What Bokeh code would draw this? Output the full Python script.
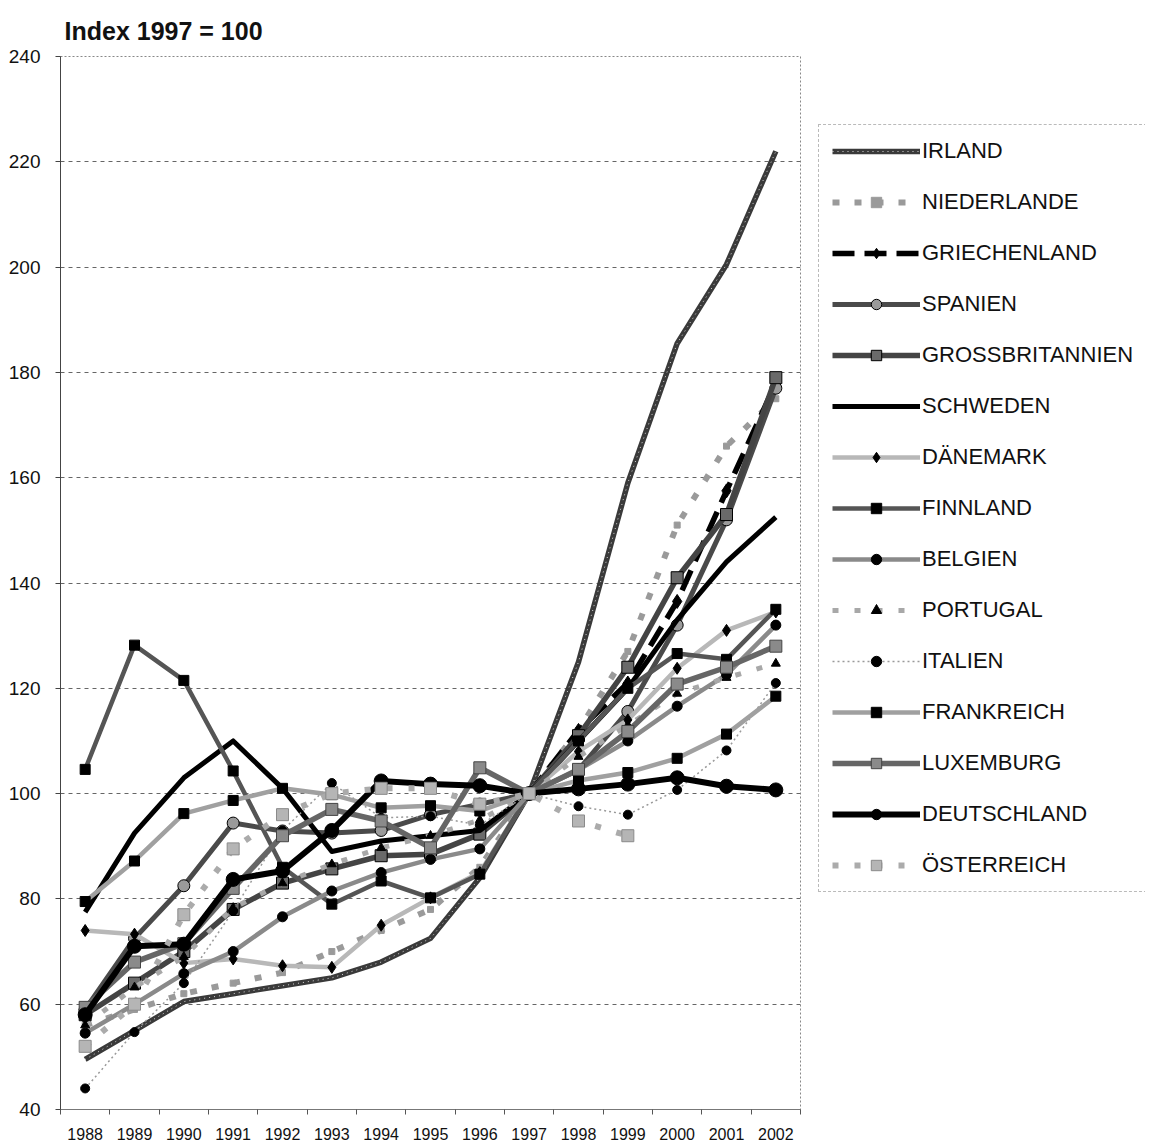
import math
from bokeh.plotting import figure
from bokeh.models import Range1d, FixedTicker, Legend, LegendItem
from bokeh.layouts import row
from bokeh.embed import file_html
from bokeh.resources import INLINE

nan = float("nan")

years = list(range(1988, 2003))
y_ticks = [40, 60, 80, 100, 120, 140, 160, 180, 200, 220, 240]

irland = [49.5, 55, 60.5, 62, 63.5, 65, 68, 72.5, 84, 100, 125, 159, 185.5, 200.5, 222]
niederlande = [56, 59, 62, 64, 66, 70, 74, 78, 86, 100, 112, 127, 151, 166, 175]
griechenland = [nan, nan, nan, nan, nan, nan, nan, nan, nan, 100, 112, 121, 136.5, 157.5, 178]
spanien = [59, 72.5, 82.5, 94.4, 92.9, 92.5, 93, 96, 98, 100, 104.5, 115.6, 132, 152, 177]
grossbritannien = [58, 64, 70, 78, 83, 85.7, 88.2, 88.5, 92.3, 100, 111, 124, 141, 153, 179]
schweden = [77.5, 92.5, 103, 110, 101, 89, 91, 92, 93, 100, 110, 120, 133, 144, 152.5]
daenemark = [74, 73.3, 67.8, 68.6, 67.3, 67, 75, 80.2, 85, 100, 108, 114, 123.8, 131, 134.5]
finnland = [104.6, 128.2, 121.5, 104.3, 86, 79, 83.4, 80.2, 84.7, 100, 110, 120, 126.6, 125.5, 135]
belgien = [54.5, 60, 65.8, 70, 76.6, 81.5, 85, 87.5, 89.5, 100, 104.5, 110, 116.6, 122.6, 132]
portugal = [56, 63.2, 69, 78.3, 83, 86.6, 89.7, 92, 95, 100, 107, 113, 119, 122, 124.7]
italien = [44, 54.7, 64, 77.7, 93, 102, 95.4, 95.7, 94, 100, 97.6, 96, 100.7, 108.2, 121]
frankreich = [79.5, 87.2, 96.2, 98.7, 101, 99.8, 97.3, 97.7, 96.7, 100, 102.5, 104, 106.7, 111.3, 118.5]
luxemburg = [59.4, 68, 71.5, 82, 92, 97, 94.8, 89.7, 104.9, 100, 104.6, 111.8, 120.8, 124, 128]
deutschland = [58, 71, 71.4, 83.7, 85.3, 93, 102.4, 101.8, 101.5, 100, 100.9, 101.8, 103, 101.4, 100.7]
oesterreich = [52, 60, 77, 89.5, 96, 100, 101, 101, 98, 100, 94.8, 92, nan, nan, nan]

series = [
    ("IRLAND", irland),
    ("NIEDERLANDE", niederlande),
    ("GRIECHENLAND", griechenland),
    ("SPANIEN", spanien),
    ("GROSSBRITANNIEN", grossbritannien),
    ("SCHWEDEN", schweden),
    ("DÄNEMARK", daenemark),
    ("FINNLAND", finnland),
    ("BELGIEN", belgien),
    ("PORTUGAL", portugal),
    ("ITALIEN", italien),
    ("FRANKREICH", frankreich),
    ("LUXEMBURG", luxemburg),
    ("DEUTSCHLAND", deutschland),
    ("ÖSTERREICH", oesterreich),
]

# style: line color, width, dash, marker, marker size, marker fill, marker line
styles = {
    "IRLAND": ("#3a3a3a", 5.5, "solid", None, 0, None, None),
    "NIEDERLANDE": ("#9a9a9a", 6, "7 15", "square", 6, "#9a9a9a", "#9a9a9a"),
    "GRIECHENLAND": ("#000000", 5.5, "22 10", "diamond", 14, "#000000", "#000000"),
    "SPANIEN": ("#4a4a4a", 5, "solid", "circle", 12, "#9a9a9a", "#000000"),
    "GROSSBRITANNIEN": ("#444444", 5.5, "solid", "square", 12, "#6a6a6a", "#000000"),
    "SCHWEDEN": ("#000000", 5, "solid", None, 0, None, None),
    "DÄNEMARK": ("#b8b8b8", 4.5, "solid", "diamond", 12, "#000000", "#000000"),
    "FINNLAND": ("#555555", 4.5, "solid", "square", 10, "#000000", "#000000"),
    "BELGIEN": ("#8a8a8a", 4.5, "solid", "circle", 10, "#000000", "#000000"),
    "PORTUGAL": ("#a8a8a8", 5, "6 16", "triangle", 9, "#000000", "#000000"),
    "ITALIEN": ("#9a9a9a", 1.5, "2 3", "circle", 9, "#000000", "#000000"),
    "FRANKREICH": ("#a0a0a0", 4.5, "solid", "square", 10, "#000000", "#000000"),
    "LUXEMBURG": ("#666666", 5.5, "solid", "square", 12, "#8a8a8a", "#444444"),
    "DEUTSCHLAND": ("#000000", 6, "solid", "circle", 14, "#000000", "#000000"),
    "ÖSTERREICH": ("#ababab", 6, "6 16", "square", 12, "#b5b5b5", "#8a8a8a"),
}

FONT = "Liberation Sans"
H = 1143

p = figure(width=801, height=H,
           x_range=Range1d(1987.5, 2002.5), y_range=Range1d(40, 240),
           output_backend="svg", toolbar_location=None,
           min_border_left=60, min_border_right=1,
           min_border_top=56, min_border_bottom=34,
           background_fill_color="white", border_fill_color="white")

p.title.text = "Index 1997 = 100"
p.title.align = "left"
p.title.offset = 4
p.title.standoff = 24
p.title.text_font = FONT
p.title.text_font_size = "25px"
p.title.text_font_style = "bold"
p.title.text_color = "#111111"

p.outline_line_color = "#888888"
p.outline_line_dash = "2 2"
p.outline_line_width = 1

p.xgrid.visible = False
p.ygrid.ticker = FixedTicker(ticks=y_ticks)
p.ygrid.grid_line_color = "#666666"
p.ygrid.grid_line_dash = "4 4"
p.ygrid.grid_line_width = 1

p.xaxis.ticker = FixedTicker(ticks=years, minor_ticks=[y - 0.5 for y in years] + [2002.5])
p.xaxis.major_tick_out = 0
p.xaxis.major_tick_in = 0
p.xaxis.minor_tick_out = 5
p.xaxis.minor_tick_in = 0
p.xaxis.minor_tick_line_color = "#555555"
p.xaxis.axis_line_color = "#777777"
p.xaxis.major_label_standoff = 13
p.xaxis.major_label_text_font = FONT
p.xaxis.major_label_text_font_size = "16px"
p.xaxis.major_label_text_color = "#111111"

p.yaxis.ticker = FixedTicker(ticks=y_ticks)
p.yaxis.major_tick_out = 5
p.yaxis.major_tick_in = 0
p.yaxis.minor_tick_line_color = None
p.yaxis.axis_line_color = "#444444"
p.yaxis.major_tick_line_color = "#444444"
p.yaxis.major_label_standoff = 15
p.yaxis.major_label_text_font = FONT
p.yaxis.major_label_text_font_size = "19px"
p.yaxis.major_label_text_color = "#111111"

# legend panel: a second figure whose plot area holds only the legend
lf = figure(width=344, height=H, x_range=Range1d(0, 1), y_range=Range1d(0, 1),
            output_backend="svg", toolbar_location=None,
            min_border_left=0, min_border_right=0, min_border_top=0, min_border_bottom=0,
            background_fill_color="white", border_fill_color="white")
lf.axis.visible = False
lf.grid.visible = False
lf.outline_line_color = None


def draw(fig, name, vals):
    color, width, dash, marker, msize, mfill, mline = styles[name]
    rs = [fig.line(years, vals, line_color=color, line_width=width, line_dash=dash,
                   line_join="round")]
    if name == "IRLAND":
        rs.append(fig.line(years, vals, line_color="#ffffff", line_width=1,
                           line_dash="1 4", line_alpha=0.8))
    if marker:
        xs = [x for x, v in zip(years, vals) if not math.isnan(v)]
        ys = [v for v in vals if not math.isnan(v)]
        rs.append(fig.scatter(xs, ys, marker=marker, size=msize, fill_color=mfill,
                              line_color=mline, line_width=1))
    return rs


items = []
for name, vals in series:
    draw(p, name, vals)
    # same series in the legend figure (outside its visible range) for legend glyphs
    items.append(LegendItem(label=name, renderers=draw(lf, name, vals)))

legend = Legend(items=items, location=(17, 217),
                glyph_width=88, glyph_height=26, label_height=26,
                label_standoff=2, spacing=25, padding=13, margin=0,
                label_text_font=FONT, label_text_font_size="22px",
                label_text_color="#111111",
                border_line_color="#777777", border_line_dash="2 2",
                border_line_width=1, background_fill_color="white",
                background_fill_alpha=1.0)
lf.add_layout(legend, "center")

layout = row(p, lf, spacing=0)
open("out.html", "w").write(file_html(layout, INLINE))
